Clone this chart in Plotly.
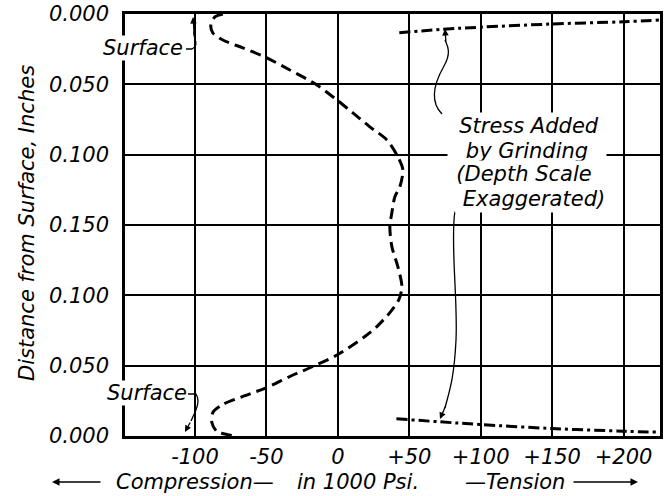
import plotly.graph_objects as go

# ---- data ----
x_ticks = [-100, -50, 0, 50, 100, 150, 200]
x_tick_labels = ["-100", "-50", "0", "+50", "+100", "+150", "+200"]
y_ticks = [0.0, 0.05, 0.10, 0.15, 0.20, 0.25, 0.30]
y_tick_labels = ["0.000", "0.050", "0.100", "0.150", "0.100", "0.050", "0.000"]

# residual stress through the section (position measured from top surface)
stress_resid = [-80.5, -86.1, -88.9, -87.5, -80.5, -66.5, -49.7, -33.6, -14.7, -0.7,
                10.5, 22.4, 34.3, 42.0, 45.5, 43.4, 39.9, 37.8, 36.4, 37.8,
                42.0, 44.8, 42.7, 36.4, 27.3, 18.9, 0.0, -17.5, -33.6, -49.7,
                -66.5, -80.5, -87.5, -88.2, -84.7, -77.7, -72.0]
depth_resid = [0.000, 0.0021, 0.0078, 0.0135, 0.0185, 0.0241, 0.0312, 0.0398, 0.0504, 0.0611,
               0.0703, 0.0802, 0.0895, 0.1015, 0.1108, 0.1228, 0.1299, 0.1413, 0.1512, 0.1654,
               0.1796, 0.1938, 0.2031, 0.2123, 0.2222, 0.2293, 0.2421, 0.2506, 0.2577, 0.2655,
               0.2719, 0.2776, 0.2833, 0.2904, 0.2968, 0.2989, 0.3000]

# stress added by grinding (depth scale exaggerated)
grind_top_stress = [43, 73, 99, 150, 200, 225]
grind_top_depth = [0.0133, 0.0109, 0.0094, 0.0071, 0.0055, 0.0043]
grind_bot_stress = [41, 71, 99, 150, 200, 225]
grind_bot_depth = [0.2878, 0.2899, 0.2918, 0.2947, 0.2966, 0.2973]

FONT = "DejaVu Sans"

# layout helpers: pixel position in the 664x496 page -> paper coords
L, R, T, B = 125, 660, 14, 436
def px(x):
    return (x - L) / (R - L)
def py(y):
    return (B - y) / (B - T)

fig = go.Figure()
fig.add_trace(go.Scatter(x=stress_resid, y=depth_resid, mode="lines",
                         line=dict(color="black", width=3, dash="11px,6px", shape="spline", smoothing=0.8),
                         hoverinfo="skip", showlegend=False))
fig.add_trace(go.Scatter(x=grind_top_stress, y=grind_top_depth, mode="lines",
                         line=dict(color="black", width=3, dash="11px,4px,3px,4px", shape="spline"),
                         hoverinfo="skip", showlegend=False))
fig.add_trace(go.Scatter(x=grind_bot_stress, y=grind_bot_depth, mode="lines",
                         line=dict(color="black", width=3, dash="11px,4px,3px,4px", shape="spline"),
                         hoverinfo="skip", showlegend=False))

tickfont = dict(family=FONT, size=21, color="black", style="italic")
fig.update_xaxes(range=[-149, 225.5], tickvals=x_ticks, ticktext=x_tick_labels,
                 showgrid=True, gridcolor="black", gridwidth=1.5, zeroline=False,
                 showline=True, linecolor="black", linewidth=2.5, mirror=True,
                 ticks="", ticklabelstandoff=0, tickfont=tickfont, automargin=False)
fig.update_yaxes(range=[0.3, 0.0], tickvals=y_ticks, ticktext=y_tick_labels,
                 showgrid=True, gridcolor="black", gridwidth=1.5, zeroline=False,
                 showline=True, linecolor="black", linewidth=2.5, mirror=True,
                 ticks="", ticklabelstandoff=9, tickfont=tickfont, automargin=False)

ann = []
def text(x, y, s, size=21, **kw):
    ann.append(dict(x=px(x), y=py(y), xref="paper", yref="paper", text=s, showarrow=False,
                    xanchor="center", yanchor="middle",
                    font=dict(family=FONT, size=size, color="black", style="italic"), **kw))
def arrow(tipx, tipy, ax, ay, w=1.5, head=2, size=1.0):
    ann.append(dict(x=px(tipx), y=py(tipy), xref="paper", yref="paper", text="", showarrow=True,
                    ax=ax, ay=ay, arrowhead=head, arrowsize=size, arrowwidth=w, arrowcolor="black"))

# y-axis title
ann.append(dict(x=px(27), y=py(223), xref="paper", yref="paper", text="Distance from Surface, Inches",
                showarrow=False, textangle=-90, xanchor="center", yanchor="middle",
                font=dict(family=FONT, size=21, color="black", style="italic")))
# x-axis title pieces
text(195, 482, "Compression—", 21)
text(358, 482, "in 1000 Psi.", 21)
text(515, 482, "—Tension", 21)
arrow(52, 482, 50, 0, w=1.5, head=2, size=1.0)
arrow(638, 482, -66, 0, w=1.5, head=2, size=1.0)

# surface labels
text(143, 48, "Surface", 21, bgcolor="white", borderpad=0)
text(147, 393, "Surface", 21, bgcolor="white", borderpad=0)

# grinding note (white box hides the grid)
for (x, y, s) in [(529, 126, "Stress Added"), (527, 151, "by Grinding"),
                  (524, 174, "(Depth Scale"), (534, 199, "Exaggerated)")]:
    text(x, y, s, 21, bgcolor="white", borderpad=1, width=156)

# arrowheads of the leaders
arrow(193, 17, 1, 14, w=1.3, head=2, size=1.0)
arrow(185, 432, 6, -11, w=1.3, head=2, size=1.0)
arrow(445, 29, 1, 14, w=1.3, head=2, size=1.0)
arrow(440, 419, 6, -14, w=1.3, head=2, size=1.0)

fig.update_layout(annotations=ann)

def P(x, y):
    return f"{px(x):.4f},{py(y):.4f}"
shapes = []
def path(d):
    shapes.append(dict(type="path", xref="paper", yref="paper", path=d,
                       line=dict(color="black", width=1.3)))
# top Surface hook
path(f"M {P(186,49)} L {P(192,49)} Q {P(198,46)} {P(195,39)} Q {P(193,34)} {P(194,28)}")
# bottom Surface hook
path(f"M {P(188,394)} L {P(196,394)} Q {P(200,400)} {P(196,410)} L {P(191,421)}")
# leader to top grinding line
path(f"M {P(442,114)} C {P(428,100)} {P(436,80)} {P(444,66)} S {P(447,45)} {P(445,40)}")
# leader to bottom grinding line
path(f"M {P(455,211)} C {P(450,240)} {P(458,300)} {P(456,340)} S {P(449,392)} {P(445,408)}")

fig.update_layout(shapes=shapes, width=664, height=496,
                  margin=dict(l=L, r=664 - R, t=T, b=496 - B),
                  paper_bgcolor="white", plot_bgcolor="white", showlegend=False)

fig.write_html("out.html", config={"displayModeBar": False},
               post_script="document.body.style.margin='0';document.body.style.padding='0';")
